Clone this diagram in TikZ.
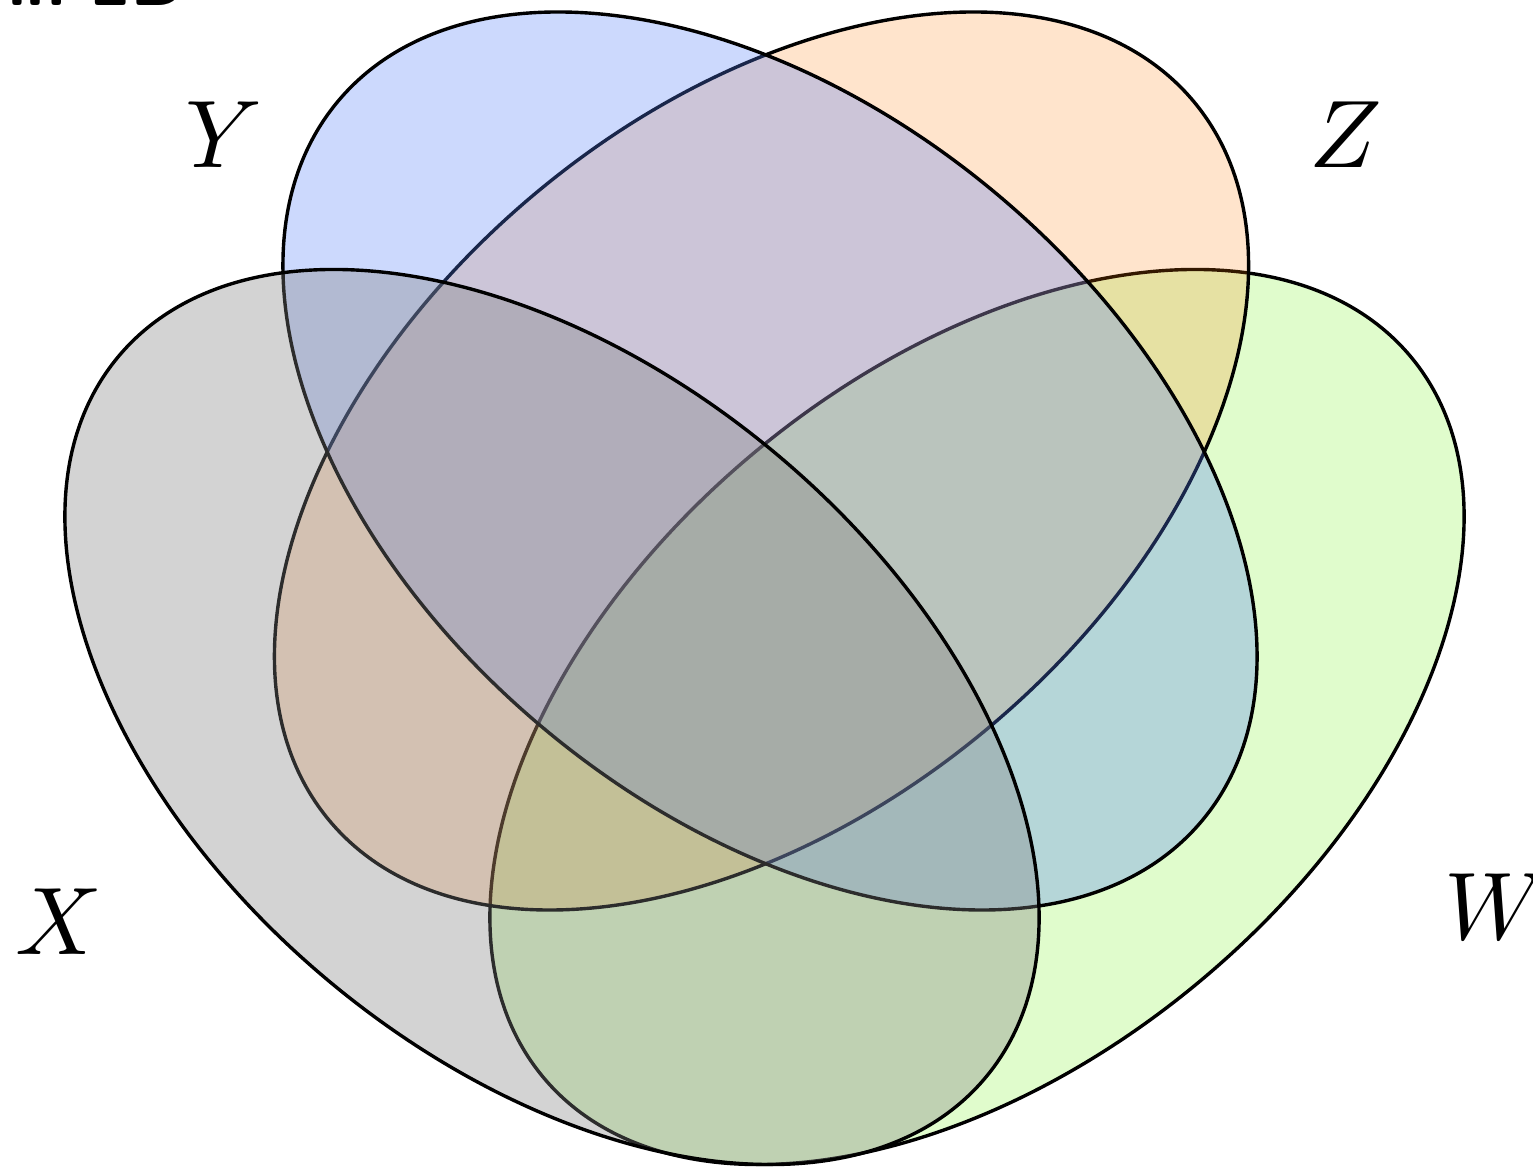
\documentclass[tikz,border=0pt]{standalone}
\usepackage{fontspec}
\definecolor{cX}{RGB}{128,128,128}
\definecolor{cY}{RGB}{85,128,248}
\definecolor{cZ}{RGB}{255,120,0}
\definecolor{cW}{RGB}{100,240,0}
\tikzset{
  setline/.style={draw=black, line width=3.4pt},
  setX/.style={setline, fill=cX, fill opacity=0.346},
  setY/.style={setline, fill=cY, fill opacity=0.3},
  setZ/.style={setline, fill=cZ, fill opacity=0.2},
  setW/.style={setline, fill=cW, fill opacity=0.2},
  setlabel/.style={anchor=base, inner sep=0pt, font=\normalsize, scale=9.6},
  toptext/.style={anchor=base east, inner sep=0pt, font=\fontsize{70}{80}\selectfont\sffamily\bfseries}
}
\begin{document}
\begin{tikzpicture}[x=1pt, y=1pt]
\useasboundingbox (0,0) rectangle (1533,1168);
% sets, drawn W, Z, Y, X
\filldraw[setW, rotate around={39.64:(977,451)}] (977,451) ellipse [x radius=563.9pt, y radius=345.7pt];
\filldraw[setZ, rotate around={39.70:(761.5,707)}] (761.5,707) ellipse [x radius=562.2pt, y radius=350.3pt];
\filldraw[setY, rotate around={-39.70:(770,707)}] (770,707) ellipse [x radius=562.2pt, y radius=350.3pt];
\filldraw[setX, rotate around={-39.64:(552,451)}] (552,451) ellipse [x radius=563.9pt, y radius=345.7pt];
% labels
\node[setlabel] (lY) at (224,1000) {$Y$};
\node[setlabel] (lZ) at (1346,1000) {$Z$};
\node[setlabel] (lX) at (59,213) {$X$};
\node[setlabel] (lW) at (1496,228) {$W$};
\node[toptext] (top) at (186,1162) {in 2D};
\end{tikzpicture}
\end{document}
